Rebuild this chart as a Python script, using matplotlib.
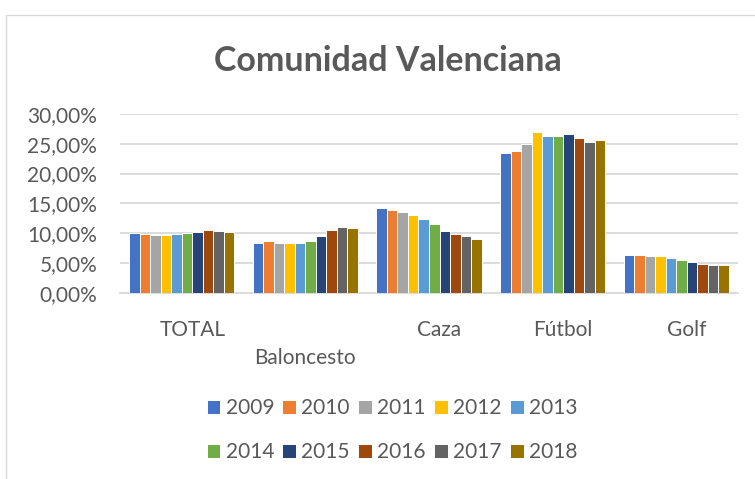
import matplotlib
matplotlib.use("Agg")
import matplotlib.pyplot as plt
import matplotlib.transforms as mtransforms
from matplotlib.patches import Rectangle
from matplotlib.ticker import FuncFormatter
import numpy as np

categories = ["TOTAL", "Baloncesto", "Caza", "Fútbol", "Golf"]
years = ["2009", "2010", "2011", "2012", "2013", "2014", "2015", "2016", "2017", "2018"]
v2009 = [10.10, 8.38, 14.22, 23.44, 6.44]
v2010 = [9.93, 8.66, 13.90, 23.72, 6.39]
v2011 = [9.80, 8.38, 13.55, 24.94, 6.16]
v2012 = [9.67, 8.38, 13.05, 27.00, 6.22]
v2013 = [9.93, 8.38, 12.44, 26.33, 5.83]
v2014 = [10.10, 8.72, 11.50, 26.28, 5.55]
v2015 = [10.20, 9.55, 10.38, 26.55, 5.22]
v2016 = [10.55, 10.55, 9.93, 25.88, 4.94]
v2017 = [10.38, 11.10, 9.50, 25.33, 4.77]
v2018 = [10.27, 10.94, 9.05, 25.55, 4.66]
series = [v2009, v2010, v2011, v2012, v2013, v2014, v2015, v2016, v2017, v2018]
colors = ["#4472C4", "#ED7D31", "#A5A5A5", "#FFC000", "#5B9BD5",
          "#70AD47", "#264478", "#9E480E", "#636363", "#997300"]
yticks = [0, 5, 10, 15, 20, 25, 30]

FONT = ["Lato", "DejaVu Sans"]
plt.rcParams['font.family'] = FONT
TXT = "#595959"
GRID = "#D9D9D9"

W, H = 755, 479
fig = plt.figure(figsize=(W / 100, H / 100), dpi=100)
fig.patch.set_facecolor("white")

# chart border
fig.patches.append(Rectangle((6 / W, -0.1), 1.2, 1 - 15 / H + 0.1, transform=fig.transFigure,
                             fill=False, edgecolor=GRID, linewidth=1.0, zorder=0))

left, right = 120, 738
top, bottom = 113.7, 293.3
ax = fig.add_axes([left / W, 1 - bottom / H, (right - left) / W, (bottom - top) / H])

x = np.arange(len(categories))
n = len(series)
slot = 0.085
containers = []
for i, (vals, c, yr) in enumerate(zip(series, colors, years)):
    bc = ax.bar(x + (i - (n - 1) / 2) * slot, vals, width=slot, color=c, edgecolor="white",
                linewidth=0.7, label=yr, zorder=3)
    containers.append(bc)

ax.set_xlim(-0.5, len(categories) - 0.5)
ax.set_ylim(0, 30)
ax.set_yticks(yticks)
ax.yaxis.set_major_formatter(FuncFormatter(lambda v, p: f"{v:.2f}".replace(".", ",") + "%"))
ax.grid(axis="y", color=GRID, linewidth=1.3, zorder=0)
for s in ["top", "right", "left"]:
    ax.spines[s].set_visible(False)
ax.spines["bottom"].set_color(GRID)
ax.spines["bottom"].set_linewidth(1.3)
ax.tick_params(axis="y", length=0, pad=16.5, labelsize=15, labelcolor=TXT)
ax.tick_params(axis="x", length=0, pad=19, labelsize=15, labelcolor=TXT)
ax.set_xticks(x)
ax.set_xticklabels(categories)
for i, lab in enumerate(ax.get_xticklabels()):
    if i == 1:
        off = mtransforms.ScaledTranslation(0, -28 / 100, fig.dpi_scale_trans)
    elif i == 0:
        off = mtransforms.ScaledTranslation(11 / 100, 0, fig.dpi_scale_trans)
    else:
        off = mtransforms.ScaledTranslation(10 / 100, 0, fig.dpi_scale_trans)
    lab.set_transform(lab.get_transform() + off)

fig.text(388 / W, 1 - 61 / H, "Comunidad Valenciana", ha="center", va="center",
         fontsize=24.5, fontweight="bold", color=TXT)

# legend filled row-major (matplotlib fills column-major)
ncol = 5
nrow = 2
order = [r * ncol + c for c in range(ncol) for r in range(nrow)]
leg = fig.legend([containers[k] for k in order], [years[k] for k in order],
                 loc="center", bbox_to_anchor=(392 / W, 1 - 430 / H), ncol=ncol, frameon=False,
                 fontsize=15, handlelength=0.66, handleheight=0.66, handletextpad=0.25,
                 columnspacing=0.4, labelspacing=1.15, borderpad=0)
for t in leg.get_texts():
    t.set_color(TXT)

fig.savefig("out.png", dpi=100, facecolor="white")
